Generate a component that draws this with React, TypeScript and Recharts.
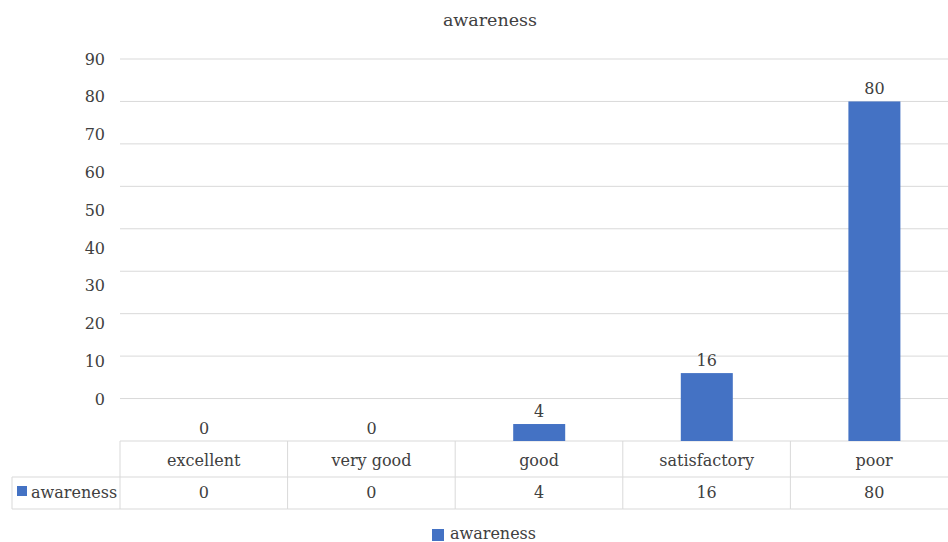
import React from "react";
import { BarChart, Bar, XAxis, YAxis, CartesianGrid, LabelList, Legend } from "recharts";

// Response categories and the share of respondents rating their awareness
const categories = ["excellent", "very good", "good", "satisfactory", "poor"];
const awareness = [0, 0, 4, 16, 80];

// Grid lines follow the bar scale; the printed axis labels run on their own scale
const gridTicks = [0, 10, 20, 30, 40, 50, 60, 70, 80, 90];
const axisLabels = [0, 10, 20, 30, 40, 50, 60, 70, 80, 90];

const seriesName = "awareness";
const chartTitle = "awareness";

const data = categories.map((name, i) => ({ name, awareness: awareness[i] }));

const W = 960;
const H = 542;
const MARGIN = { top: 59, right: 2, bottom: 0, left: 0 };
const AXIS_W = 120;
const TABLE_H = 68;
const HEADER_H = 36;
const LEGEND_H = 33;
const BAND = (W - MARGIN.left - MARGIN.right - AXIS_W) / categories.length;

const FONT = "DejaVu Serif";
const FS = 16;
const TEXT = "#404040";
const LINE = "#d9d9d9";
const BLUE = "#4472C4";

// Data-table cell drawn under each category
const TableTick = (props: any) => {
  const { x, y, payload, index } = props;
  const left = x - BAND / 2;
  const right = x + BAND / 2;
  const top = y;
  const mid = top + HEADER_H;
  const bottom = top + TABLE_H;
  const last = index === categories.length - 1;
  return (
    <g>
      <line x1={left} y1={top} x2={left} y2={bottom} stroke={LINE} />
      {last && <line x1={right} y1={top} x2={right} y2={bottom} stroke={LINE} />}
      <line x1={left} y1={mid} x2={right} y2={mid} stroke={LINE} />
      <line x1={left} y1={bottom} x2={right} y2={bottom} stroke={LINE} />
      <text x={x} y={top + 25} textAnchor="middle" fill={TEXT} fontFamily={FONT} fontSize={FS}>
        {payload.value}
      </text>
      <text x={x} y={mid + 21} textAnchor="middle" fill={TEXT} fontFamily={FONT} fontSize={FS}>
        {awareness[index]}
      </text>
      {index === 0 && (
        <g>
          <line x1={12} y1={mid} x2={left} y2={mid} stroke={LINE} />
          <line x1={12} y1={bottom} x2={left} y2={bottom} stroke={LINE} />
          <line x1={12} y1={mid} x2={12} y2={bottom} stroke={LINE} />
          <rect x={17} y={mid + 9} width={10} height={10} fill={BLUE} />
          <text x={31} y={mid + 21} fill={TEXT} fontFamily={FONT} fontSize={FS}>
            {seriesName}
          </text>
        </g>
      )}
    </g>
  );
};

// Zero values keep a slot so their value label is still placed on the baseline
const BarShape = (props: any) => {
  const { x, y, width, height, value } = props;
  const v = Array.isArray(value) ? value[1] - value[0] : value;
  if (!v) return null;
  return <rect x={x} y={y} width={width} height={height} fill={BLUE} />;
};

const LegendContent = () => (
  <div
    style={{
      height: LEGEND_H,
      display: "flex",
      alignItems: "flex-end",
      justifyContent: "center",
      fontFamily: FONT,
      fontSize: FS,
      color: TEXT,
      paddingLeft: 10,
      boxSizing: "border-box",
      position: "relative",
      top: 2,
    }}
  >
    <span style={{ display: "inline-block", width: 12, height: 12, background: BLUE, marginRight: 6, marginBottom: 3 }} />
    <span style={{ lineHeight: "20px" }}>{seriesName}</span>
  </div>
);

export default function App() {
  return (
    <div style={{ position: "absolute", left: 0, top: 0, width: W, height: H, background: "#fff" }}>
      <div
        style={{
          position: "absolute",
          left: 0,
          top: 8,
          width: 980,
          textAlign: "center",
          fontFamily: FONT,
          fontSize: 17.5,
          color: TEXT,
          lineHeight: "24px",
        }}
      >
        {chartTitle}
      </div>
      <BarChart width={W} height={H} data={data} margin={MARGIN} barSize={52}>
        <CartesianGrid yAxisId="bars" vertical={false} stroke={LINE} />
        <XAxis
          dataKey="name"
          axisLine={false}
          tickLine={false}
          tickSize={0}
          tickMargin={0}
          height={TABLE_H}
          interval={0}
          tick={<TableTick />}
        />
        <YAxis
          yAxisId="labels"
          type="number"
          domain={[-11.1, 90]}
          ticks={axisLabels}
          allowDataOverflow
          width={AXIS_W}
          axisLine={false}
          tickLine={false}
          tickSize={0}
          tickMargin={15}
          tick={{ fill: TEXT, fontFamily: FONT, fontSize: FS }}
        />
        <YAxis yAxisId="bars" hide width={0} type="number" domain={[0, 90]} ticks={gridTicks} />
        <Legend verticalAlign="bottom" height={LEGEND_H} content={<LegendContent />} />
        <Bar
          yAxisId="bars"
          dataKey="awareness"
          name={seriesName}
          fill={BLUE}
          minPointSize={0.01}
          shape={<BarShape />}
          isAnimationActive={false}
        >
          <LabelList
            dataKey="awareness"
            position="top"
            offset={7}
            fill={TEXT}
            fontFamily={FONT}
            fontSize={FS}
          />
        </Bar>
      </BarChart>
    </div>
  );
}
